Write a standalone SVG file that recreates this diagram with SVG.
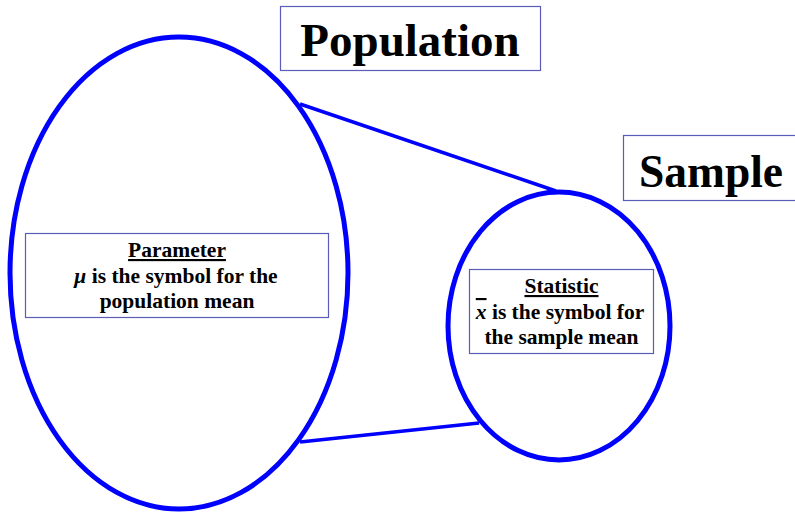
<svg xmlns="http://www.w3.org/2000/svg" width="795" height="512" viewBox="0 0 795 512">
<style>
.shape{fill:none;stroke:#0000ff;stroke-width:5}
.conn{fill:none;stroke:#0000ff;stroke-width:3.5}
.box{fill:#ffffff;stroke:#5b5bb8;stroke-width:1.2}
.t{font-family:"Liberation Serif","Times New Roman",serif;font-weight:bold;fill:#000;text-anchor:middle}
.title{font-size:47px}
.lbl{font-size:21.5px}
</style>
<rect width="795" height="512" fill="#ffffff"/>
<g id="connectors">
<line class="conn" x1="300" y1="104" x2="556" y2="191"/>
<line class="conn" x1="300" y1="442" x2="479" y2="423"/>
</g>
<g id="population-ellipse">
<ellipse class="shape" cx="179" cy="273" rx="169" ry="236"/>
</g>
<g id="sample-ellipse">
<ellipse class="shape" cx="559" cy="326" rx="111" ry="134"/>
</g>
<g id="population-title">
<rect class="box" x="280.5" y="6.5" width="260" height="64"/>
<text class="t title" x="410" y="56">Population</text>
</g>
<g id="sample-title">
<rect class="box" x="623.5" y="135.5" width="180" height="65"/>
<text class="t title" x="711" y="187" style="font-size:45.5px">Sample</text>
</g>
<g id="parameter">
<rect class="box" x="25.5" y="233.5" width="303" height="84"/>
<text class="t lbl" x="177" y="257"><tspan text-decoration="underline">Parameter</tspan></text>
<text class="t lbl" x="176" y="283"><tspan font-style="italic">μ</tspan> is the symbol for the</text>
<text class="t lbl" x="177" y="308">population mean</text>
</g>
<g id="statistic">
<rect class="box" x="469.5" y="269.5" width="184" height="84"/>
<text class="t lbl" x="561.5" y="293"><tspan text-decoration="underline">Statistic</tspan></text>
<text class="t lbl" x="560" y="319"><tspan font-style="italic" text-decoration="overline">x</tspan> is the symbol for</text>
<text class="t lbl" x="561.5" y="344">the sample mean</text>
</g>
</svg>
